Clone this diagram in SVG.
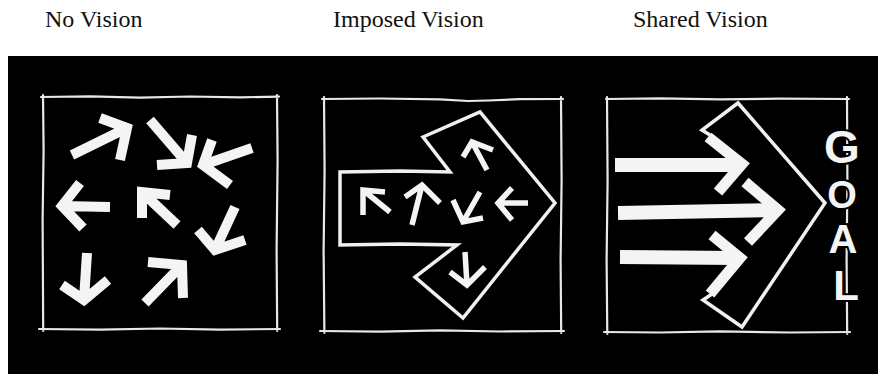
<svg xmlns="http://www.w3.org/2000/svg" width="878" height="374" viewBox="0 0 878 374">
<style>
.title{font-family:"Liberation Serif","Times New Roman",serif;font-size:24px;fill:#111}
.frame{fill:none;stroke:#e8e8e8;stroke-width:2.2;stroke-linecap:round;stroke-linejoin:round}
.a1{fill:none;stroke:#f4f4f4;stroke-width:10;stroke-linecap:butt;stroke-linejoin:miter;stroke-miterlimit:6}
.a2{fill:none;stroke:#f4f4f4;stroke-width:5.5;stroke-linecap:butt;stroke-linejoin:miter;stroke-miterlimit:6}
.outline{fill:none;stroke:#f0f0f0;stroke-width:3.5;stroke-linejoin:miter}
.a3s{fill:none;stroke:#f4f4f4;stroke-width:14;stroke-linecap:butt}
.a3h{fill:none;stroke:#f4f4f4;stroke-width:11;stroke-linecap:butt;stroke-linejoin:miter;stroke-miterlimit:8}
.goal{font-family:"Liberation Sans",Arial,sans-serif;font-weight:bold;fill:#f4f4f4;stroke:#000;stroke-width:4;paint-order:stroke;text-anchor:middle}
</style>
<rect x="0" y="0" width="878" height="374" fill="#fff"/>
<rect x="8" y="56" width="870" height="318" fill="#000"/>

<text class="title" x="45" y="27">No Vision</text>
<text class="title" x="333" y="27">Imposed Vision</text>
<text class="title" x="633" y="27">Shared Vision</text>

<g id="no-vision">
  <path class="frame" d="M41 97 L90 96.4 L140 97.6 L190 96.5 L240 97.3 L279 96.6 M43 95 L43.6 150 L42.6 220 L43.2 331 M277 95 L277.6 160 L276.6 250 L277.2 331 M39 329 L100 329.6 L160 328.5 L220 329.6 L280 329"/>
  <path class="a1" d="M72 155 L127 128 M100 118 L127 128 L120 160"/>
  <path class="a1" d="M150 120 L187 163 M157 165 L187 163 L192 135"/>
  <path class="a1" d="M252 148 L203 165 M212 140 L203 165 L230 185"/>
  <path class="a1" d="M110 207 L62 206 M80 183 L62 206 L83 228"/>
  <path class="a1" d="M177 225 L142 192 M170 195 L142 192 L142 218"/>
  <path class="a1" d="M235 207 L215 250 M198 230 L215 250 L245 240"/>
  <path class="a1" d="M87 253 L84 300 M62 285 L84 300 L108 280"/>
  <path class="a1" d="M145 303 L182 265 M148 262 L182 265 L183 298"/>
</g>

<g id="imposed-vision">
  <path class="frame" d="M322 99 L380 98.5 L440 99.3 L468 101 L488 100.5 L520 99.2 L563 99 M324 97 L324.6 170 L323.6 250 L324.4 333 M561 97 L561.6 180 L560.6 260 L561.2 333 M320 331 L380 331.6 L440 330.4 L500 331.5 L564 331"/>
  <path class="outline" d="M423 137 L480 112 L555 203 L463 318 L415 277 L457 245 L400 244 L340 245 L340 172 L400 171 L450 172 Z"/>
  <path class="a2" d="M487 170 L472 142 M463 157 L472 142 L493 150"/>
  <path class="a2" d="M390 212 L363 190 M385 192 L363 190 L363 215"/>
  <path class="a2" d="M412 225 L422 185 M405 197 L422 185 L440 203"/>
  <path class="a2" d="M480 192 L463 222 M453 200 L463 222 L483 218"/>
  <path class="a2" d="M528 203 L498 203 M512 188 L498 203 L512 220"/>
  <path class="a2" d="M465 252 L467 285 M450 272 L467 285 L485 267"/>
</g>

<g id="shared-vision">
  <path class="frame" d="M606 99 L660 98.4 L720 99.4 L780 98.6 L849 99 M607 97 L607.6 180 L606.6 260 L607.3 334 M847 97 L847.4 180 L846.6 260 L847.2 334 M604 332 L660 332.5 L720 331.4 L790 332.5 L850 332"/>
  <path class="outline" d="M710 135 L702 130 L738 103 L825 203 L742 327 L703 300 L712 294"/>
  <path class="a3s" d="M615 165 L736 165"/>
  <path class="a3h" d="M708 137 L742 164 L718 192"/>
  <path class="a3s" d="M618 213 L774 210"/>
  <path class="a3h" d="M745 182 L778 210 L748 242"/>
  <path class="a3s" d="M620 257 L736 258"/>
  <path class="a3h" d="M712 235 L740 258 L710 294"/>
  <text class="goal" x="842" y="163" font-size="46">G</text>
  <text class="goal" x="842" y="208" font-size="38">O</text>
  <text class="goal" x="843" y="253" font-size="40">A</text>
  <text class="goal" x="846" y="300" font-size="42">L</text>
</g>
</svg>
